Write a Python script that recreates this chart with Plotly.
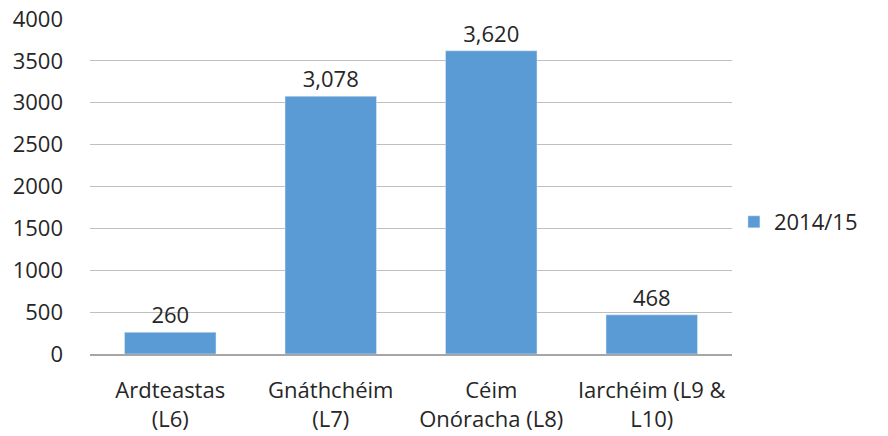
import plotly.graph_objects as go

# Data
categories = ["Ardteastas<br>(L6)", "Gnáthchéim<br>(L7)", "Céim<br>Onóracha (L8)", "Iarchéim (L9 &<br>L10)"]
values = [260, 3078, 3620, 468]
series_name = "2014/15"
y_ticks = [0, 500, 1000, 1500, 2000, 2500, 3000, 3500, 4000]

font_family = "Open Sans, Liberation Sans, sans-serif"
text_color = "#262626"

fig = go.Figure()
fig.add_trace(go.Bar(
    x=categories, y=values, name=series_name,
    marker=dict(color="#5B9BD5"),
    text=[f"{v:,}" for v in values], textposition="outside",
    textfont=dict(size=22, color=text_color, family=font_family),
    cliponaxis=False,
))

fig.update_layout(
    width=888, height=436,
    margin=dict(l=90, r=156, t=19, b=82),
    plot_bgcolor="white", paper_bgcolor="white",
    font=dict(family=font_family, size=22, color=text_color),
    bargap=0.43,
    showlegend=True,
    legend=dict(x=1.003, y=0.394, xanchor="left", yanchor="middle",
                itemwidth=30, font=dict(size=22, color=text_color)),
    xaxis=dict(showline=True, linecolor="#A6A6A6", linewidth=1.5, ticks="",
               automargin=False, ticklabelstandoff=16,
               tickfont=dict(size=22)),
    yaxis=dict(range=[0, 4000], tickvals=y_ticks, showgrid=True,
               gridcolor="#BFBFBF", gridwidth=1.2, zeroline=False,
               showline=False, ticks="", ticklabelstandoff=26,
               automargin=False, tickfont=dict(size=22)),
)

# remove the default page margin so the figure sits at the window's corner
fig.write_html("out.html", config={"displayModeBar": False},
               post_script="document.body.style.margin='0';")
